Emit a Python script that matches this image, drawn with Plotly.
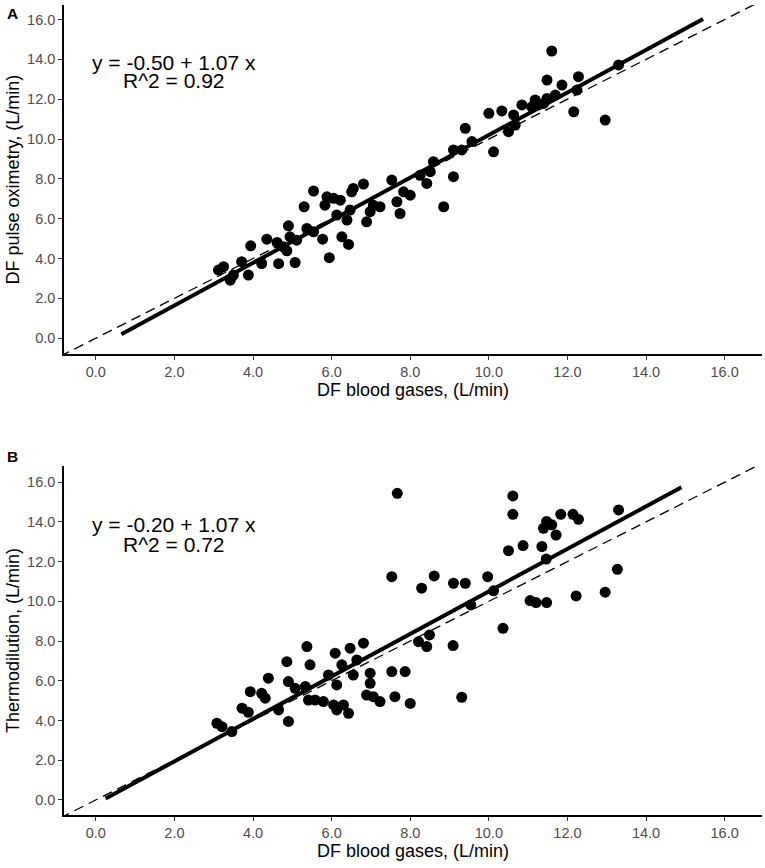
import plotly.graph_objects as go

# Panel A: DF blood gases vs DF pulse oximetry (L/min)
a_x = [3.12, 3.25, 3.42, 3.50, 3.71, 3.88, 3.94, 4.22, 4.35, 4.61, 4.65, 4.77,
       4.90, 4.86, 5.07, 4.94, 5.11, 5.30, 5.37, 5.54, 5.54, 5.77, 5.94, 5.88,
       5.83, 6.05, 6.13, 6.22, 6.26, 6.43, 6.39, 6.51, 6.55, 6.81, 6.47, 6.89,
       6.98, 7.06, 7.23, 7.53, 7.66, 7.74, 7.83, 8.00, 8.25, 8.42,
       8.51, 8.59, 8.85, 9.10, 9.10, 9.31, 9.40, 9.57, 10.00, 10.12, 10.33,
       10.50, 10.63, 10.67, 10.84, 11.09, 11.18, 11.26, 11.39, 11.48, 11.60,
       11.48, 11.69, 11.86, 12.16, 12.24, 12.28, 12.96, 13.30]
a_y = [3.42, 3.59, 2.91, 3.17, 3.84, 3.17, 4.64, 3.75, 4.97, 4.81, 3.74, 4.59,
       5.64, 4.39, 3.80, 5.09, 4.92, 6.60, 5.51, 7.39, 5.34, 4.97, 4.04, 7.10,
       6.68, 7.02, 6.18, 6.93, 5.09, 4.71, 5.93, 7.35, 7.52, 7.74, 6.43, 5.84,
       6.35, 6.68, 6.60, 7.94, 6.85, 6.26, 7.35, 7.18, 8.18, 7.77,
       8.36, 8.86, 6.60, 8.11, 9.45, 9.45, 10.54, 9.87, 11.29, 9.36, 11.41,
       10.37, 11.21, 10.70, 11.71, 11.62, 11.96, 11.71, 11.79, 12.04, 14.42,
       12.96, 12.21, 12.71, 11.37, 12.46, 13.13, 10.95, 13.72]

# Panel B: DF blood gases vs thermodilution (L/min)
b_x = [3.08, 3.21, 3.46, 3.72, 3.88, 3.93, 4.22, 4.31, 4.39, 4.65, 4.86, 4.90,
       4.90, 5.07, 5.33, 5.37, 5.45, 5.41, 5.58, 5.79, 5.92, 6.05, 6.09, 6.13,
       6.13, 6.26, 6.30, 6.43, 6.47, 6.55, 6.64, 6.81, 6.89, 6.98, 6.98, 7.06,
       7.23, 7.53, 7.61, 7.87, 8.00, 8.21, 8.42,
       7.67, 7.53, 8.29, 8.61, 9.10, 9.40, 9.97, 10.12, 9.54, 10.61, 10.61,
       10.50, 10.87, 11.35, 11.46, 11.47, 11.39, 11.60, 11.71, 11.83, 12.14,
       12.28, 13.30, 13.27, 12.96, 12.22, 11.05, 11.20, 11.47, 10.36, 8.49,
       9.09, 9.31]
b_y = [3.86, 3.69, 3.44, 4.62, 4.41, 5.45, 5.37, 5.12, 6.13, 4.53, 6.96, 3.95,
       5.96, 5.62, 5.71, 7.72, 6.80, 5.03, 5.03, 4.95, 6.29, 4.78, 7.39, 5.79,
       4.53, 6.80, 4.78, 4.36, 7.64, 6.29, 7.05, 7.89, 5.28, 6.38, 5.87, 5.20,
       4.95, 6.46, 5.20, 6.46, 4.86, 7.97, 7.72,
       15.44, 11.24, 10.66, 11.28, 10.91, 10.91, 11.24, 10.53, 9.82, 15.31, 14.38,
       12.55, 12.81, 12.76, 12.13, 14.02, 13.68, 13.85, 13.34, 14.38, 14.38,
       14.13, 14.60, 11.61, 10.46, 10.27, 10.04, 9.94, 9.94, 8.64, 8.31,
       7.77, 5.17]

# regression fits as printed on the chart
a_fit = dict(intercept=-0.50, slope=1.07, r2=0.92, x=[0.65, 15.45])
b_fit = dict(intercept=-0.20, slope=1.07, r2=0.72, x=[0.25, 14.9])
identity_x = [-2, 18]

tick_vals = [0, 2, 4, 6, 8, 10, 12, 14, 16]
x_title = "DF blood gases, (L/min)"
a_y_title = "DF pulse oximetry, (L/min)"
b_y_title = "Thermodilution, (L/min)"

FONT = "Liberation Sans, Arial, sans-serif"

fig = go.Figure()

panels = [
    (a_x, a_y, a_fit, "x", "y"),
    (b_x, b_y, b_fit, "x2", "y2"),
]
for px_, py_, fit, xa, ya in panels:
    # line of identity
    fig.add_trace(go.Scatter(
        x=identity_x, y=identity_x, mode="lines",
        line=dict(color="black", width=1.3, dash="10px,6px"),
        xaxis=xa, yaxis=ya, showlegend=False, hoverinfo="skip"))
    # fitted line
    fx = fit["x"]
    fy = [fit["intercept"] + fit["slope"] * v for v in fx]
    fig.add_trace(go.Scatter(
        x=fx, y=fy, mode="lines",
        line=dict(color="black", width=4),
        xaxis=xa, yaxis=ya, showlegend=False, hoverinfo="skip"))
    fig.add_trace(go.Scatter(
        x=px_, y=py_, mode="markers",
        marker=dict(color="black", size=11, line=dict(width=0)),
        xaxis=xa, yaxis=ya, showlegend=False))

axis_common = dict(
    tickvals=tick_vals, tickformat=".1f",
    showline=True, linecolor="black", linewidth=1.6,
    ticks="outside", ticklen=4, tickwidth=1, tickcolor="#333333",
    tickfont=dict(family=FONT, size=14.5, color="#4D4D4D"),
    showgrid=False, zeroline=False, automargin=False,
)

fig.update_layout(
    width=765, height=868,
    margin=dict(l=64, r=3, t=5, b=53),
    plot_bgcolor="white", paper_bgcolor="white",
    font=dict(family=FONT, color="black"),
    xaxis=dict(axis_common, domain=[0, 1], anchor="y", range=[-0.81, 16.95],
               title=dict(text=x_title, font=dict(size=18), standoff=3)),
    yaxis=dict(axis_common, domain=[0.569, 1], anchor="x", range=[-0.80, 16.73],
               title=dict(text=a_y_title, font=dict(size=18), standoff=3)),
    xaxis2=dict(axis_common, domain=[0, 1], anchor="y2", range=[-0.81, 16.95],
                title=dict(text=x_title, font=dict(size=18), standoff=3)),
    yaxis2=dict(axis_common, domain=[0, 0.431], anchor="x2", range=[-0.76, 16.82],
                title=dict(text=b_y_title, font=dict(size=18), standoff=3)),
)

# equation annotations
for fit, xr, yr, y1, y2 in [(a_fit, "x", "y", 13.83, 12.96),
                            (b_fit, "x2", "y2", 13.85, 12.85)]:
    eq = f"y = {fit['intercept']:.2f} + {fit['slope']:.2f} x"
    fig.add_annotation(x=1.98, y=y1, xref=xr, yref=yr, text=eq, showarrow=False,
                       font=dict(family=FONT, size=21, color="black"))
    fig.add_annotation(x=1.98, y=y2, xref=xr, yref=yr, text=f"R^2 = {fit['r2']:.2f}",
                       showarrow=False, font=dict(family=FONT, size=21, color="black"))

# panel letters
for label, yy in [("A", 0.989), ("B", 0.442)]:
    fig.add_annotation(x=-0.0735, y=yy, xref="paper", yref="paper", text=f"<b>{label}</b>",
                       xanchor="center", yanchor="middle", showarrow=False,
                       font=dict(family=FONT, size=15.5, color="black"))

# remove the default page margin so the figure sits at the window's top-left
fig.write_html("out.html", config={"displayModeBar": False},
               post_script="document.body.style.margin='0';document.body.style.overflow='hidden';")
